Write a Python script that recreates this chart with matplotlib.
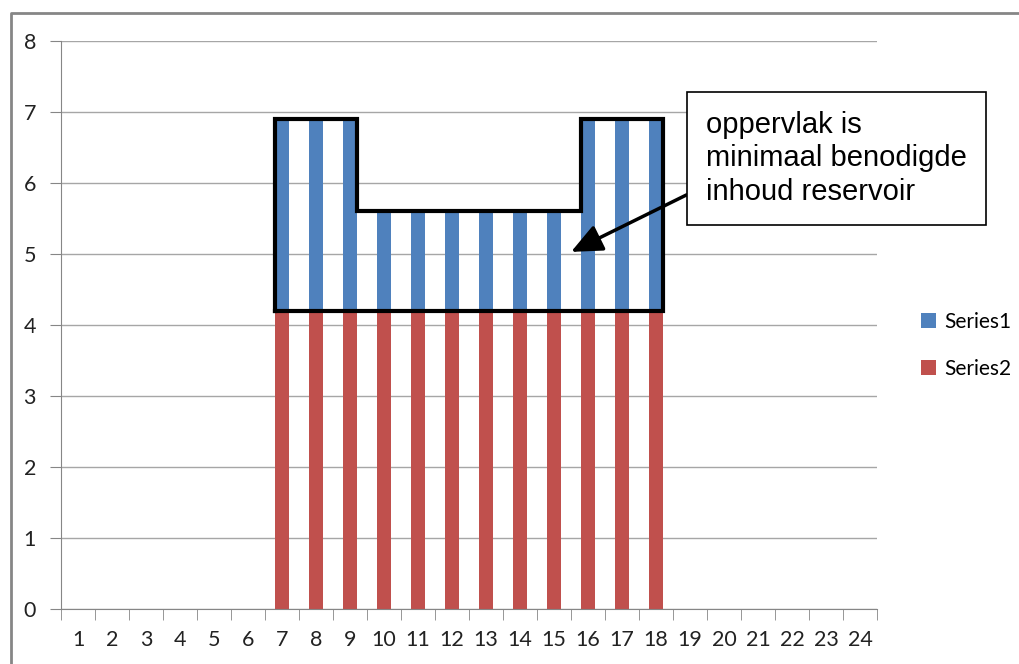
import numpy as np
import matplotlib
matplotlib.use("Agg")
import matplotlib.pyplot as plt
from matplotlib.lines import Line2D

# gegevens
dagen = np.arange(1, 25)
series2 = [0, 0, 0, 0, 0, 0, 4.2, 4.2, 4.2, 4.2, 4.2, 4.2,
           4.2, 4.2, 4.2, 4.2, 4.2, 4.2, 0, 0, 0, 0, 0, 0]
series1 = [0, 0, 0, 0, 0, 0, 2.7, 2.7, 2.7, 1.4, 1.4, 1.4,
           1.4, 1.4, 1.4, 2.7, 2.7, 2.7, 0, 0, 0, 0, 0, 0]
tekst = "oppervlak is\nminimaal benodigde\ninhoud reservoir"

blauw = "#4F81BD"
rood = "#C0504D"
breedte = 0.4

plt.rcParams['font.family'] = ['Lato', 'DejaVu Sans']

fig = plt.figure(figsize=(10.19, 6.64), dpi=100)
ax = fig.add_axes([0.0599, 0.0828, 0.8008, 0.8554])

ax.bar(dagen, series2, width=breedte, color=rood, label="Series2", zorder=2)
ax.bar(dagen, series1, width=breedte, bottom=series2, color=blauw,
       label="Series1", zorder=2)

ax.set_xlim(0.5, 24.5)
ax.set_ylim(0, 8)
ax.set_yticks(range(0, 9))
ax.set_xticks(dagen)
ax.set_xticks(np.arange(0.5, 25, 1), minor=True)
ax.tick_params(axis='x', which='major', length=0, pad=15, labelsize=15.5, labelcolor='#222222')
ax.tick_params(axis='x', which='minor', length=8, color='#868686', direction='out')
ax.tick_params(axis='y', length=8, color='#868686', pad=10, labelsize=15.5, labelcolor='#222222')
ax.grid(axis='y', color='#A6A6A6', lw=1, zorder=0)
for s in ['top', 'right']:
    ax.spines[s].set_visible(False)
ax.spines['left'].set_color('#868686')
ax.spines['bottom'].set_color('#868686')

# omtrek van het oppervlak, uit de staven afgeleid
totaal = np.array(series1) + np.array(series2)
basis = max(series2)
actief = [i for i in range(len(dagen)) if series1[i] > 0]
links = [dagen[i] - breedte / 2 for i in actief]
rechts = [dagen[i] + breedte / 2 for i in actief]
hoog = [totaal[i] for i in actief]
px, py = [links[0], links[0]], [basis, hoog[0]]
for k in range(len(actief) - 1):
    if hoog[k + 1] != hoog[k]:
        x = rechts[k] if hoog[k + 1] < hoog[k] else links[k + 1]
        px += [x, x]
        py += [hoog[k], hoog[k + 1]]
px += [rechts[-1], rechts[-1], links[0]]
py += [hoog[-1], basis, basis]
ax.plot(px, py, color='black', lw=3, solid_joinstyle='miter', zorder=3)

ax.annotate(tekst, xy=(15.5, 5.03), xytext=(19.47, 6.35),
            fontsize=21, family='Liberation Sans', va='center', ha='left',
            linespacing=1.25,
            bbox=dict(boxstyle='square,pad=0.65', fc='white', ec='black', lw=1.2),
            arrowprops=dict(arrowstyle='-|>,head_length=0.9,head_width=0.4',
                            color='black', lw=2.5, shrinkA=0, shrinkB=0,
                            relpos=(0, 0.215)),
            zorder=4, annotation_clip=False)

h, l = ax.get_legend_handles_labels()
fig.legend(h[::-1], l[::-1], loc='center left', bbox_to_anchor=(0.885, 0.48),
           frameon=False, fontsize=15, handlelength=0.75, handleheight=0.75,
           handletextpad=0.4, labelspacing=1.3)

# kader rond de grafiek
fig.add_artist(Line2D([0.0108, 0.0108, 1.0], [0.0, 0.981, 0.981],
                      transform=fig.transFigure, color='#868686', lw=2))

fig.savefig("out.png", dpi=100)
